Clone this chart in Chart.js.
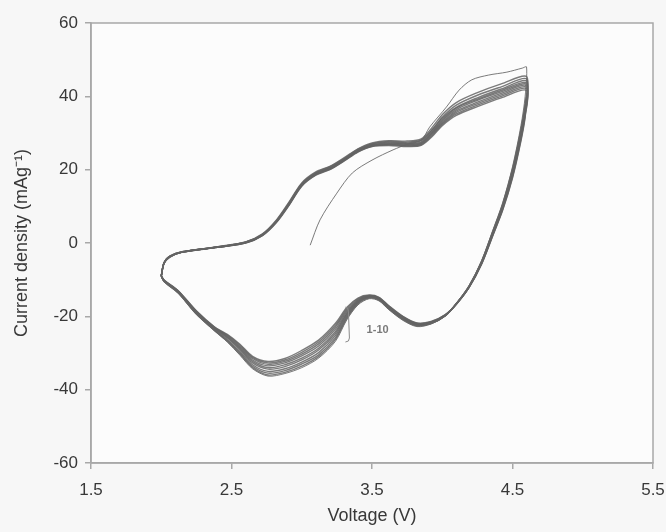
<!DOCTYPE html>
<html>
<head>
<meta charset="utf-8">
<script src="https://cdn.jsdelivr.net/npm/chart.js@4/dist/chart.umd.min.js"></script>
<style>
html,body{margin:0;padding:0;background:#f7f7f7;}
#wrap{width:666px;height:532px;}
</style>
</head>
<body>
<div id="wrap"><canvas id="c" width="666" height="532"></canvas></div>
<script>
// Axis ticks
const xTicks = [1.5, 2.5, 3.5, 4.5, 5.5];
const yTicks = [-60, -40, -20, 0, 20, 40, 60];

// Voltage grid for anodic (up) and cathodic (down) sweeps
const vUp = [2.00,2.02,2.06,2.15,2.40,2.60,2.72,2.82,2.91,3.00,3.10,3.20,3.30,3.40,3.50,3.62,3.75,3.85,3.93,4.00,4.10,4.25,4.42,4.60];
const vDown = [4.59,4.56,4.50,4.43,4.36,4.28,4.19,4.10,4.02,3.92,3.82,3.72,3.62,3.55,3.48,3.40,3.32,3.24,3.12,3.00,2.88,2.76,2.65,2.56,2.47,2.38,2.25,2.12,2.02,2.00];

// Cycle 1 (starts at open-circuit voltage)
const v1Up = [3.06,3.13,3.25,3.36,3.50,3.65,3.75,3.85,3.91,4.03,4.12,4.21,4.33,4.46,4.57,4.60];
const i1Up = [-0.6,6.3,13.6,19.1,22.6,25.4,26.9,28.0,31.6,37.1,41.7,44.5,45.8,46.6,47.7,48.0];
const i1Down = [40.0,32.0,20.8,11.0,3.5,-4.8,-11.6,-16.4,-19.9,-22.1,-22.8,-21.1,-18.2,-15.8,-15.2,-16.9,-21.0,-26.8,-31.4,-34.0,-35.6,-36.3,-34.3,-30.6,-27.0,-24.0,-19.5,-13.7,-10.6,-9.0];

// Cycles 2-10, current density (mA/g)
const i2Up = [-9.0,-5.6,-3.9,-2.5,-1.0,0.3,2.5,6.3,11.2,16.4,19.4,20.9,23.2,25.7,27.3,27.9,27.8,28.4,31.6,35.0,38.3,41.0,43.4,45.4];
const i2Down = [38.0,31.0,20.2,10.6,3.2,-5.0,-11.8,-16.5,-19.9,-22.0,-22.6,-20.9,-18.0,-15.6,-15.0,-16.6,-20.6,-26.3,-31.0,-33.6,-35.3,-36.0,-34.0,-30.3,-26.8,-23.9,-19.4,-13.6,-10.5,-9.0];
const i3Up = [-9.0,-5.5,-3.8,-2.5,-1.1,0.2,2.4,6.1,11.0,16.2,19.2,20.8,23.0,25.6,27.1,27.7,27.5,28.1,31.0,34.3,37.6,40.3,42.6,44.8];
const i3Down = [37.4,30.6,19.9,10.4,3.0,-5.1,-11.9,-16.6,-19.9,-21.9,-22.5,-20.8,-17.9,-15.5,-14.9,-16.4,-20.3,-25.8,-30.5,-33.0,-34.8,-35.5,-33.6,-30.0,-26.6,-23.8,-19.3,-13.5,-10.4,-9.0];
const i4Up = [-9.0,-5.5,-3.8,-2.4,-1.1,0.2,2.3,6.1,10.9,16.1,19.1,20.6,22.9,25.4,27.0,27.5,27.3,27.9,30.9,34.0,37.0,39.6,42.0,44.2];
const i4Down = [37.0,30.2,19.6,10.2,2.9,-5.2,-11.9,-16.6,-19.9,-21.9,-22.4,-20.7,-17.8,-15.4,-14.8,-16.2,-19.9,-25.2,-29.9,-32.5,-34.3,-35.0,-33.2,-29.6,-26.3,-23.6,-19.2,-13.4,-10.4,-9.0];
const i5Up = [-9.0,-5.5,-3.8,-2.5,-1.1,0.2,2.3,6.0,10.8,16.0,19.0,20.5,22.8,25.3,26.8,27.3,27.1,27.6,30.5,33.6,36.8,39.2,41.6,43.7];
const i5Down = [36.5,29.8,19.2,9.9,2.7,-5.3,-12.0,-16.6,-19.8,-21.8,-22.3,-20.5,-17.6,-15.3,-14.7,-16.0,-19.5,-24.6,-29.2,-31.9,-33.7,-34.4,-32.7,-29.1,-25.9,-23.4,-19.0,-13.3,-10.3,-9.0];
const i6Up = [-9.0,-5.4,-3.7,-2.5,-1.1,0.1,2.2,5.9,10.7,15.9,18.9,20.4,22.7,25.2,26.7,27.2,27.0,27.4,30.2,33.3,36.4,38.9,41.2,43.3];
const i6Down = [36.0,29.4,18.9,9.7,2.6,-5.4,-12.0,-16.6,-19.8,-21.7,-22.2,-20.4,-17.5,-15.2,-14.6,-15.8,-19.2,-24.1,-28.7,-31.4,-33.2,-34.0,-32.3,-28.8,-25.7,-23.3,-18.9,-13.2,-10.3,-9.0];
const i7Up = [-9.0,-5.4,-3.7,-2.5,-1.2,0.1,2.2,5.8,10.6,15.8,18.8,20.3,22.6,25.1,26.6,27.0,26.8,27.2,30.0,32.9,36.0,38.4,40.8,42.9];
const i7Down = [35.6,29.0,18.6,9.5,2.4,-5.5,-12.1,-16.6,-19.7,-21.6,-22.1,-20.3,-17.4,-15.1,-14.5,-15.6,-18.8,-23.5,-28.1,-30.8,-32.7,-33.5,-31.9,-28.5,-25.5,-23.2,-18.8,-13.2,-10.2,-9.0];
const i8Up = [-9.0,-5.4,-3.7,-2.4,-1.2,0.1,2.1,5.8,10.5,15.7,18.7,20.2,22.5,25.0,26.5,26.9,26.6,27.0,29.7,32.6,35.6,38.0,40.4,42.5];
const i8Down = [35.2,28.6,18.3,9.3,2.3,-5.6,-12.1,-16.7,-19.7,-21.6,-22.0,-20.2,-17.3,-15.0,-14.4,-15.4,-18.4,-22.9,-27.5,-30.3,-32.3,-33.1,-31.5,-28.2,-25.3,-23.1,-18.7,-13.1,-10.2,-9.0];
const i9Up = [-9.0,-5.3,-3.6,-2.4,-1.2,0.0,2.1,5.7,10.4,15.6,18.6,20.1,22.4,24.9,26.4,26.8,26.5,26.8,29.4,32.3,35.2,37.6,40.0,42.1];
const i9Down = [34.8,28.2,18.0,9.1,2.1,-5.7,-12.2,-16.7,-19.6,-21.5,-21.9,-20.1,-17.2,-14.9,-14.3,-15.2,-18.0,-22.4,-27.0,-29.8,-31.9,-32.7,-31.2,-27.9,-25.1,-23.0,-18.6,-13.0,-10.1,-9.0];
const i10Up = [-9.0,-5.3,-3.6,-2.4,-1.2,0.0,2.0,5.6,10.3,15.5,18.5,20.0,22.3,24.8,26.3,26.6,26.3,26.6,29.1,32.0,34.8,37.2,39.6,41.6];
const i10Down = [34.4,27.8,17.7,8.9,2.0,-5.8,-12.2,-16.7,-19.6,-21.4,-21.8,-20.0,-17.1,-14.8,-14.2,-15.0,-17.6,-21.9,-26.5,-29.3,-31.5,-32.3,-30.9,-27.6,-24.9,-22.9,-18.5,-13.0,-10.1,-9.0];

const cycleLabels = ['1','2','3','4','5','6','7','8','9','10'];
const annotationText = '1-10';

function pts(vs, is) { return vs.map((v, k) => ({x: v, y: is[k]})); }

const cycles = [
  pts(v1Up, i1Up).concat(pts(vDown, i1Down)),
  pts(vUp, i2Up).concat(pts(vDown, i2Down)),
  pts(vUp, i3Up).concat(pts(vDown, i3Down)),
  pts(vUp, i4Up).concat(pts(vDown, i4Down)),
  pts(vUp, i5Up).concat(pts(vDown, i5Down)),
  pts(vUp, i6Up).concat(pts(vDown, i6Down)),
  pts(vUp, i7Up).concat(pts(vDown, i7Down)),
  pts(vUp, i8Up).concat(pts(vDown, i8Down)),
  pts(vUp, i9Up).concat(pts(vDown, i9Down)),
  pts(vUp, i10Up).concat(pts(vDown, i10Down))
];

const datasets = cycles.map((d, k) => ({
  label: 'Cycle ' + cycleLabels[k],
  data: d,
  showLine: true,
  borderColor: 'rgba(100,100,100,0.85)',
  borderWidth: k === 0 ? 1.0 : 1.4,
  pointRadius: 0,
  tension: 0.3,
  fill: false
}));

const FONT = '"Liberation Sans", Arial, sans-serif';

const framePlugin = {
  id: 'frame',
  beforeDraw(chart) {
    const {ctx, chartArea: a} = chart;
    ctx.save();
    ctx.fillStyle = '#fcfcfc';
    ctx.fillRect(a.left, a.top, a.right - a.left, a.bottom - a.top);
    ctx.restore();
  },
  afterDraw(chart) {
    const {ctx, chartArea: a, scales} = chart;
    ctx.save();
    ctx.strokeStyle = '#a8a8a8';
    ctx.lineWidth = 1.5;
    ctx.strokeRect(a.left, a.top, a.right - a.left, a.bottom - a.top);
    // annotation "1-10" with brace
    const xs = scales.x, ys = scales.y;
    const tx = xs.getPixelForValue(3.54), ty = ys.getPixelForValue(-23.8);
    ctx.fillStyle = '#7a7a7a';
    ctx.font = 'bold 11px ' + FONT;
    ctx.textAlign = 'center';
    ctx.textBaseline = 'middle';
    ctx.fillText(annotationText, tx, ty);
    const bx = xs.getPixelForValue(3.325);
    const bTop = ys.getPixelForValue(-17.5), bBot = ys.getPixelForValue(-27.0);
    ctx.strokeStyle = '#8a8a8a';
    ctx.lineWidth = 1;
    ctx.beginPath();
    ctx.moveTo(bx - 2, bTop);
    ctx.quadraticCurveTo(bx + 1, bTop, bx + 1, bTop + 4);
    ctx.lineTo(bx + 2, bBot - 4);
    ctx.quadraticCurveTo(bx + 2, bBot, bx - 2, bBot);
    ctx.stroke();
    ctx.restore();
  }
};

new Chart(document.getElementById('c'), {
  type: 'scatter',
  data: { datasets },
  options: {
    responsive: false,
    animation: false,
    events: [],
    layout: { padding: { top: 23, right: 13, left: 0, bottom: 0 } },
    plugins: { legend: { display: false }, tooltip: { enabled: false } },
    scales: {
      x: {
        type: 'linear', min: 1.5, max: 5.5,
        afterBuildTicks(s) { s.ticks = xTicks.map(v => ({value: v})); },
        afterFit(s) { s.height = 69; s.paddingLeft = 0; s.paddingRight = 0; },
        grid: { drawOnChartArea: false, drawTicks: true, tickLength: 6, color: '#a8a8a8', lineWidth: 1.5 },
        border: { color: '#a8a8a8', width: 1.5 },
        ticks: { color: '#383838', font: { size: 17, family: FONT }, padding: 11, callback: v => v.toFixed(1) },
        title: { display: true, text: 'Voltage (V)', color: '#383838', font: { size: 18, family: FONT }, padding: { top: 2, bottom: 5 } }
      },
      y: {
        type: 'linear', min: -60, max: 60,
        afterBuildTicks(s) { s.ticks = yTicks.map(v => ({value: v})); },
        afterFit(s) { s.width = 91; s.paddingTop = 0; s.paddingBottom = 0; },
        grid: { drawOnChartArea: false, drawTicks: true, tickLength: 6, color: '#a8a8a8', lineWidth: 1.5 },
        border: { color: '#a8a8a8', width: 1.5 },
        ticks: { color: '#383838', font: { size: 17, family: FONT }, padding: 7 },
        title: { display: true, text: 'Current density (mAg\u207B\u00B9)', color: '#383838', font: { size: 18, family: FONT }, padding: { top: 11, bottom: 4 } }
      }
    }
  },
  plugins: [framePlugin]
});
</script>
</body>
</html>
